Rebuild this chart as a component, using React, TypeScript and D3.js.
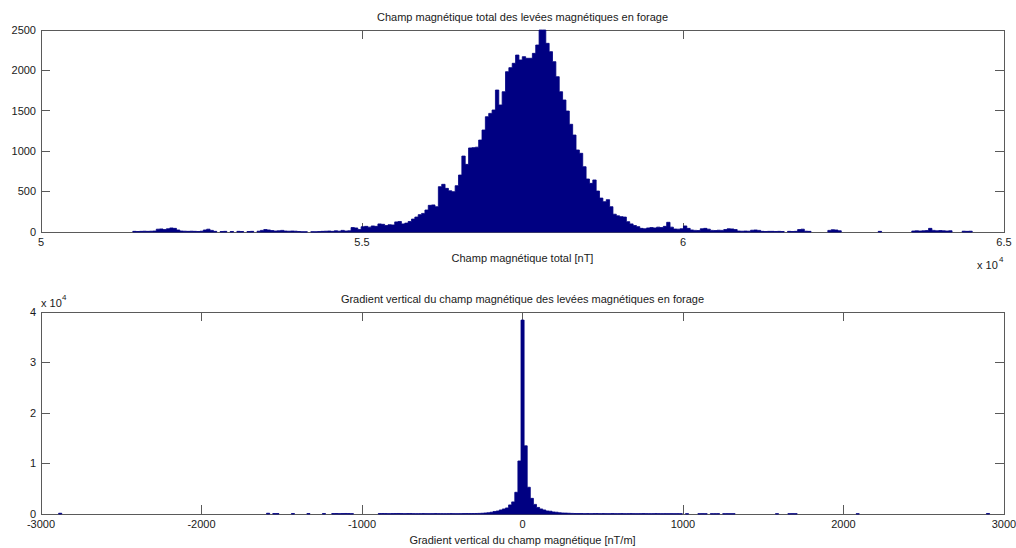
import React from 'react';
import * as d3 from 'd3';

// ---------- Data: total magnetic field histogram ----------
const totalBinStart = 51430;
const totalBinWidth = 52.3;
const totalCounts = [
  8, 6, 8, 10, 8, 10, 12, 35, 38, 30,
  40, 50, 45, 25, 12, 10, 8, 10, 8, 6,
  10, 25, 35, 20, 8, 0, 6, 8, 0, 6,
  0, 8, 6, 0, 6, 8, 0, 10, 20, 30,
  25, 18, 12, 15, 20, 12, 10, 12, 10, 6,
  2, 2, 0, 3, 2, 5, 8, 10, 12, 8,
  15, 10, 20, 12, 15, 55, 50, 30, 65, 70,
  60, 75, 70, 100, 95, 80, 90, 87, 125, 130,
  100, 110, 130, 160, 185, 215, 230, 272, 330, 335,
  313, 561, 590, 540, 510, 499, 573, 705, 940, 837,
  1040, 1044, 1050, 1138, 1262, 1427, 1468, 1510, 1757, 1572,
  1736, 1984, 2034, 2088, 2190, 2129, 2170, 2150, 2150, 2211,
  2314, 2500, 2500, 2335, 2232, 2108, 1922, 1736, 1634, 1497,
  1333, 1200, 1015, 974, 808, 656, 602, 644, 507, 420,
  375, 400, 313, 220, 200, 190, 185, 128, 100, 80,
  66, 45, 40, 50, 55, 50, 60, 55, 70, 120,
  60, 37, 35, 40, 75, 45, 25, 20, 18, 40,
  45, 35, 20, 18, 22, 20, 30, 40, 38, 30,
  12, 10, 12, 10, 22, 25, 20, 8, 6, 8,
  8, 6, 8, 6, 0, 8, 6, 8, 30, 35,
  10, 8, 0, 0, 0, 0, 0, 20, 28, 25,
  15, 0, 0, 0, 0, 0, 0, 0, 0, 0,
  0, 0, 8, 0, 0, 0, 0, 0, 0, 0,
  0, 0, 12, 15, 12, 15, 18, 45, 20, 15,
  18, 15, 12, 15, 0, 0, 0, 10, 8, 10,
];
const totalXTicks = [50000, 55000, 60000, 65000];
const totalXTickLabels = ['5', '5.5', '6', '6.5'];
const totalYTicks = [0, 500, 1000, 1500, 2000, 2500];
const totalYTickLabels = ['0', '500', '1000', '1500', '2000', '2500'];

// ---------- Data: vertical gradient histogram ----------
const gradBinStart = -2890;
const gradBinWidth = 5800 / 300;
const gradCounts = [
  150, 0, 0, 0, 0, 0, 0, 0, 0, 0,
  0, 0, 0, 0, 0, 0, 0, 0, 0, 0,
  0, 0, 0, 0, 0, 0, 0, 0, 0, 0,
  0, 0, 0, 0, 0, 0, 0, 0, 0, 0,
  0, 0, 0, 0, 0, 0, 0, 0, 0, 0,
  0, 0, 0, 0, 0, 0, 0, 0, 0, 0,
  0, 0, 0, 0, 0, 0, 0, 150, 0, 80,
  80, 0, 0, 0, 0, 80, 0, 0, 0, 0,
  80, 0, 0, 0, 0, 80, 0, 0, 80, 90,
  70, 80, 100, 80, 70, 0, 0, 0, 0, 0,
  0, 0, 0, 80, 90, 80, 70, 80, 90, 100,
  80, 70, 80, 90, 70, 60, 70, 80, 70, 60,
  70, 80, 70, 70, 60, 70, 80, 70, 60, 70,
  80, 90, 80, 90, 100, 120, 150, 200, 250, 350,
  500, 600, 800, 1000, 1200, 1800, 2400, 4300, 10500, 38400,
  13500, 5300, 3100, 1900, 1300, 1000, 800, 600, 550, 400,
  350, 250, 200, 180, 150, 120, 90, 80, 90, 70,
  80, 70, 80, 90, 70, 80, 70, 60, 80, 70,
  70, 80, 60, 70, 80, 70, 60, 70, 80, 70,
  60, 70, 80, 70, 60, 70, 60, 70, 60, 70,
  60, 0, 60, 0, 0, 0, 60, 70, 60, 0,
  60, 60, 70, 0, 60, 70, 60, 60, 0, 0,
  0, 0, 0, 0, 0, 0, 0, 0, 0, 0,
  0, 60, 0, 0, 0, 60, 70, 60, 0, 0,
  0, 0, 0, 0, 0, 0, 0, 0, 0, 0,
  0, 0, 0, 0, 0, 0, 0, 60, 0, 0,
  0, 0, 0, 0, 0, 0, 0, 0, 0, 0,
  0, 0, 0, 0, 0, 0, 0, 0, 0, 0,
  0, 0, 0, 0, 0, 0, 0, 0, 0, 0,
  0, 0, 0, 0, 0, 0, 0, 0, 0, 100,
];
const gradXTicks = [-3000, -2000, -1000, 0, 1000, 2000, 3000];
const gradXTickLabels = ['-3000', '-2000', '-1000', '0', '1000', '2000', '3000'];
const gradYTicks = [0, 10000, 20000, 30000, 40000];
const gradYTickLabels = ['0', '1', '2', '3', '4'];

const FONT = '"Liberation Sans", Arial, Helvetica, sans-serif';
const AXIS = '#5a5a5a';
const TEXT = '#1a1a1a';
const BAR = '#000082';
const TICK = 9;

type PanelProps = {
  top: number;
  bottom: number;
  left: number;
  right: number;
  xDomain: [number, number];
  yDomain: [number, number];
  xTicks: number[];
  xTickLabels: string[];
  yTicks: number[];
  yTickLabels: string[];
  binStart: number;
  binWidth: number;
  counts: number[];
  title: string;
  xLabel: string;
  expPos: 'right' | 'top';
};

function histPath(
  counts: number[],
  binStart: number,
  binWidth: number,
  x: d3.ScaleLinear<number, number>,
  y: d3.ScaleLinear<number, number>,
  yMax: number
) {
  const path = d3.path();
  const y0 = y(0);
  let open = false;
  counts.forEach((c, i) => {
    const x0 = x(binStart + i * binWidth);
    const x1 = x(binStart + (i + 1) * binWidth);
    if (c > 0) {
      const yc = y(Math.min(c, yMax));
      if (!open) {
        path.moveTo(x0, y0);
        open = true;
      }
      path.lineTo(x0, yc);
      path.lineTo(x1, yc);
    } else if (open) {
      path.lineTo(x0, y0);
      path.closePath();
      open = false;
    }
  });
  if (open) {
    path.lineTo(x(binStart + counts.length * binWidth), y0);
    path.closePath();
  }
  return path.toString();
}

function Panel(p: PanelProps) {
  const x = d3.scaleLinear().domain(p.xDomain).range([p.left, p.right]);
  const y = d3.scaleLinear().domain(p.yDomain).range([p.bottom, p.top]);
  const cx = (p.left + p.right) / 2;
  const d = histPath(p.counts, p.binStart, p.binWidth, x, y, p.yDomain[1]);
  return (
    <g>
      <text x={cx} y={p.top - 9} textAnchor="middle" fontSize={11} fill={TEXT} fontFamily={FONT}>
        {p.title}
      </text>
      <rect
        x={p.left}
        y={p.top}
        width={p.right - p.left}
        height={p.bottom - p.top}
        fill="#fff"
        stroke={AXIS}
        strokeWidth={1}
        shapeRendering="crispEdges"
      />
      {p.xTicks.map((t, i) => (
        <g key={'xt' + i}>
          <line x1={x(t)} x2={x(t)} y1={p.bottom} y2={p.bottom - TICK} stroke={AXIS} shapeRendering="crispEdges" />
          <line x1={x(t)} x2={x(t)} y1={p.top} y2={p.top + TICK} stroke={AXIS} shapeRendering="crispEdges" />
          <text x={x(t)} y={p.bottom + 14} textAnchor="middle" fontSize={11} fill={TEXT} fontFamily={FONT}>
            {p.xTickLabels[i]}
          </text>
        </g>
      ))}
      {p.yTicks.map((t, i) => (
        <g key={'yt' + i}>
          <line x1={p.left} x2={p.left + TICK} y1={y(t)} y2={y(t)} stroke={AXIS} shapeRendering="crispEdges" />
          <line x1={p.right} x2={p.right - TICK} y1={y(t)} y2={y(t)} stroke={AXIS} shapeRendering="crispEdges" />
          <text x={p.left - 5} y={y(t)} dy="0.35em" textAnchor="end" fontSize={11} fill={TEXT} fontFamily={FONT}>
            {p.yTickLabels[i]}
          </text>
        </g>
      ))}
      <path d={d} fill={BAR} stroke={BAR} strokeWidth={0.8} strokeLinejoin="miter" />
      <text x={cx} y={p.bottom + 30} textAnchor="middle" fontSize={11} fill={TEXT} fontFamily={FONT}>
        {p.xLabel}
      </text>
      {p.expPos === 'right' ? (
        <g>
          <text x={p.right - 27} y={p.bottom + 37} fontSize={11} fill={TEXT} fontFamily={FONT}>
            x 10
          </text>
          <text x={p.right - 5} y={p.bottom + 30} fontSize={8} fill={TEXT} fontFamily={FONT}>
            4
          </text>
        </g>
      ) : (
        <g>
          <text x={p.left} y={p.top - 5} fontSize={11} fill={TEXT} fontFamily={FONT}>
            x 10
          </text>
          <text x={p.left + 21} y={p.top - 12} fontSize={8} fill={TEXT} fontFamily={FONT}>
            4
          </text>
        </g>
      )}
    </g>
  );
}

export default function App() {
  return (
    <svg
      width={1016}
      height={548}
      style={{ position: 'absolute', left: 0, top: 0, background: '#fff' }}
    >
      <rect x={0} y={0} width={1016} height={548} fill="#fff" />
      <Panel
        top={30}
        bottom={232}
        left={41}
        right={1004}
        xDomain={[50000, 65000]}
        yDomain={[0, 2500]}
        xTicks={totalXTicks}
        xTickLabels={totalXTickLabels}
        yTicks={totalYTicks}
        yTickLabels={totalYTickLabels}
        binStart={totalBinStart}
        binWidth={totalBinWidth}
        counts={totalCounts}
        title="Champ magnétique total des levées magnétiques en forage"
        xLabel="Champ magnétique total [nT]"
        expPos="right"
      />
      <Panel
        top={312}
        bottom={514}
        left={41}
        right={1004}
        xDomain={[-3000, 3000]}
        yDomain={[0, 40000]}
        xTicks={gradXTicks}
        xTickLabels={gradXTickLabels}
        yTicks={gradYTicks}
        yTickLabels={gradYTickLabels}
        binStart={gradBinStart}
        binWidth={gradBinWidth}
        counts={gradCounts}
        title="Gradient vertical du champ magnétique des levées magnétiques en forage"
        xLabel="Gradient vertical du champ magnétique [nT/m]"
        expPos="top"
      />
    </svg>
  );
}
